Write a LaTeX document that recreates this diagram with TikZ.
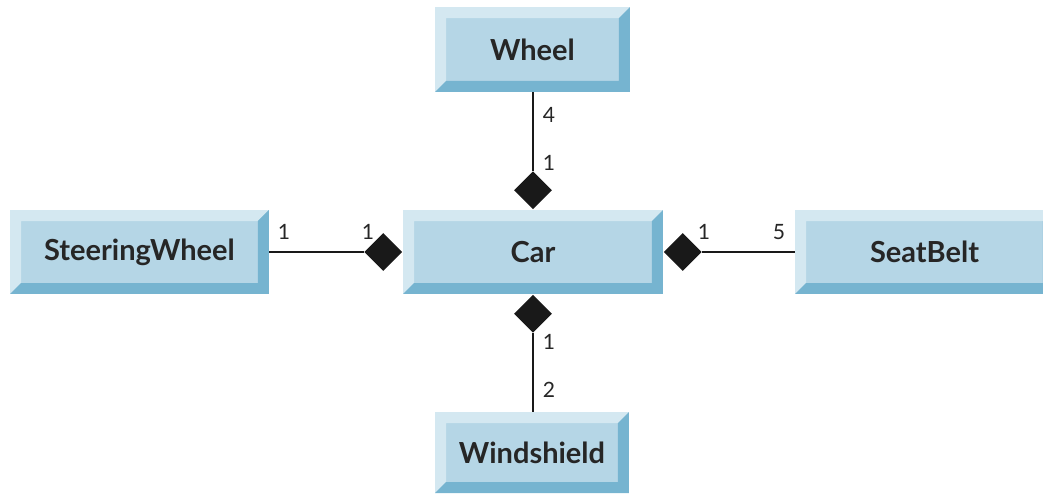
\documentclass[tikz,border=0pt]{standalone}
\usepackage{fontspec}
\setmainfont{Lato}
\usetikzlibrary{shapes.geometric}
\definecolor{facecol}{RGB}{181,214,230}
\definecolor{litecol}{RGB}{212,232,241}
\definecolor{darkcol}{RGB}{118,180,208}
\begin{document}
\begin{tikzpicture}
 [
 x=0.02cm, y=-0.02cm,
 classbox/.style={rectangle, fill=facecol, inner sep=0pt, minimum height=1.68cm,
   font=\fontsize{16.5}{19}\selectfont\bfseries, text=black!85,
   path picture={
    \fill[litecol] (path picture bounding box.south west) -- (path picture bounding box.north west)
      -- (path picture bounding box.north east) -- ([xshift=-0.22cm,yshift=-0.22cm]path picture bounding box.north east)
      -- ([xshift=0.22cm,yshift=-0.22cm]path picture bounding box.north west) -- ([xshift=0.22cm,yshift=0.22cm]path picture bounding box.south west) -- cycle;
    \fill[darkcol] (path picture bounding box.south west) -- (path picture bounding box.south east)
      -- (path picture bounding box.north east) -- ([xshift=-0.22cm,yshift=-0.22cm]path picture bounding box.north east)
      -- ([xshift=-0.22cm,yshift=0.22cm]path picture bounding box.south east) -- ([xshift=0.22cm,yshift=0.22cm]path picture bounding box.south west) -- cycle;
   }},
 aggr/.style={diamond, fill=black!90, inner sep=0pt, minimum width=0.76cm, minimum height=0.76cm},
 mult/.style={font=\fontsize{12}{14}\selectfont, text=black!85, inner sep=0pt},
 link/.style={line width=1.1pt, black!90}
 ]
 \useasboundingbox (0,0) rectangle (1043,494);
 \clip (0,0) rectangle (1043,494);
 \node at (533,252) [classbox, minimum width=5.2cm] (car) {Car};
 \node at (532.5,49.5) [classbox, minimum width=3.9cm, minimum height=1.7cm] (wheel) {Wheel};
 \node at (139.5,252) [classbox, minimum width=5.18cm] (steer) {SteeringWheel};
 \node at (924.5,252) [classbox, minimum width=5.18cm] (belt) {SeatBelt};
 \node at (532,452.5) [classbox, minimum width=3.88cm, minimum height=1.62cm] (shield) {Windshield};
 % aggregation diamonds
 \node at (car.north) [aggr, anchor=south] (dtop) {};
 \node at (car.south) [aggr, anchor=north] (dbot) {};
 \node at (car.west) [aggr, anchor=east] (dleft) {};
 \node at (car.east) [aggr, anchor=west] (dright) {};
 \draw[link] (wheel.south -| dtop.north) -- (dtop.north);
 \draw[link] (dbot.south) -- (shield.north -| dbot.south);
 \draw[link] (steer.east) -- (dleft.west);
 \draw[link] (dright.east) -- (belt.west);
 % multiplicities
 \node at (549,115) [mult] (m1) {4};
 \node at (549,163) [mult] (m2) {1};
 \node at (284,232) [mult] (m3) {1};
 \node at (368,232) [mult] (m4) {1};
 \node at (704,232) [mult] (m5) {1};
 \node at (779,232) [mult] (m6) {5};
 \node at (549,342) [mult] (m7) {1};
 \node at (549,390) [mult] (m8) {2};
\end{tikzpicture}
\end{document}
